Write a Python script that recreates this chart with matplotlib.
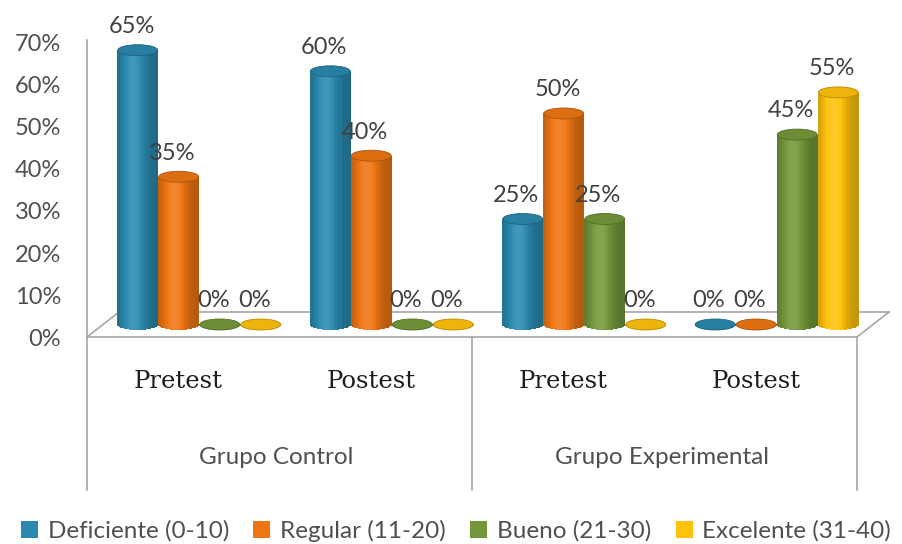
import numpy as np
import matplotlib
matplotlib.use('Agg')
import matplotlib.pyplot as plt
from matplotlib.patches import Ellipse, Patch
from matplotlib.colors import to_rgb

# data
categories = ['Pretest', 'Postest', 'Pretest', 'Postest']
groups = ['Grupo Control', 'Grupo Experimental']
series = ['Deficiente (0-10)', 'Regular (11-20)', 'Bueno (21-30)', 'Excelente (31-40)']
deficiente = [65, 60, 25, 0]
regular = [35, 40, 50, 0]
bueno = [0, 0, 25, 45]
excelente = [0, 0, 0, 55]
yticks = [0, 10, 20, 30, 40, 50, 60, 70]
colors = ['#2A89AE', '#EE7512', '#74973A', '#FFC20A']

data = [deficiente, regular, bueno, excelente]

plt.rcParams['font.family'] = ['Lato', 'DejaVu Sans']

# layout in pixels -> data units (x: category index, y: percent)
W, H = 903, 544
X0, CW = 87, 192.5      # front-left corner of floor, px per category
Y0, PY = 337, 4.22      # px of 0 % on front plane, px per percent
DX, DY = 32 / CW, 25 / PY   # depth of the 3d floor
bar_w = 40 / CW
slot = 41 / CW
eh = 11 / PY            # ellipse height of cylinder ends

fig = plt.figure(figsize=(W / 100, H / 100), dpi=100)
ax = fig.add_axes([0, 0, 1, 1])
ax.set_xlim(-0.5 - X0 / CW, -0.5 + (W - X0) / CW)
ax.set_ylim((Y0 - H) / PY, Y0 / PY)
ax.axis('off')

grid_c = '#A6A6A6'
txt_c = '#505050'
n_cat = len(categories)
left, right = -0.5, n_cat - 0.5

# floor (parallelogram) and axis lines
ax.plot([left, right], [0, 0], color=grid_c, lw=1.2, zorder=1)
ax.plot([left + DX, right + DX], [DY, DY], color=grid_c, lw=1.2, zorder=1)
ax.plot([left, left + DX], [0, DY], color=grid_c, lw=1.2, zorder=1)
ax.plot([right, right + DX], [0, DY], color=grid_c, lw=1.2, zorder=1)
bottom_y = (Y0 - 490) / PY
ax.plot([left, left], [bottom_y, 70.4], color=grid_c, lw=1.2, zorder=1)
for xv in [left + 2, right]:
    ax.plot([xv, xv], [bottom_y, 0], color=grid_c, lw=1.2, zorder=1)

# y tick labels
for t in yticks:
    ax.text(left + (61 - X0) / CW, t - 0.6, f'{t}%', ha='right', va='center',
            fontsize=17, color=txt_c)

# category and group labels
for i, c in enumerate(categories):
    ax.text(i - 0.025, (Y0 - 382) / PY, c, ha='center', va='center',
            fontsize=17.5, family='DejaVu Serif', color='#1E1E1E')
for g, name in enumerate(groups):
    ax.text(2 * g + 0.5 - 0.015, (Y0 - 457) / PY, name, ha='center', va='center',
            fontsize=17.5, color=txt_c)


def shade(c, m):
    c = np.array(c)
    if m <= 1:
        return tuple(c * m)
    return tuple(c + (1 - c) * (m - 1))


# cylinders: vertical strips give the round shading
N = 30
cx = np.arange(n_cat) + DX / 2
base = DY / 2
for s, vals in enumerate(data):
    rgb = to_rgb(colors[s])
    xs = cx + (s - 1.5) * slot
    vals = np.array(vals, dtype=float)
    for k in range(N):
        t = (k + 0.5) / N
        u = 2 * t - 1
        m = 0.76 + 0.36 * np.exp(-((t - 0.4) / 0.3) ** 2)
        dip = eh / 2 * np.sqrt(1 - u ** 2)
        ax.bar(xs + u * bar_w / 2, vals + dip, width=bar_w / N * 1.4,
               bottom=base - dip, color=shade(rgb, m), linewidth=0, zorder=3)
    for x, v in zip(xs, vals):
        ax.add_patch(Ellipse((x, base + v), bar_w, eh, facecolor=shade(rgb, 0.93),
                             edgecolor=shade(rgb, 0.72), lw=0.6, zorder=4))
        ax.annotate(f'{v:.0f}%', (x, base + v), xytext=(-4.5, 17),
                    textcoords='offset points', ha='center', va='center',
                    fontsize=17, color='#404040', zorder=5)

handles = [Patch(facecolor=c, edgecolor='none') for c in colors]
fig.legend(handles, series, loc='center', bbox_to_anchor=(0.505, (H - 531) / H),
           ncol=4, frameon=False, handlelength=0.7, handleheight=0.7,
           handletextpad=0.4, columnspacing=1.0, fontsize=17.5, labelcolor=txt_c)

fig.savefig('out.png', dpi=100)
